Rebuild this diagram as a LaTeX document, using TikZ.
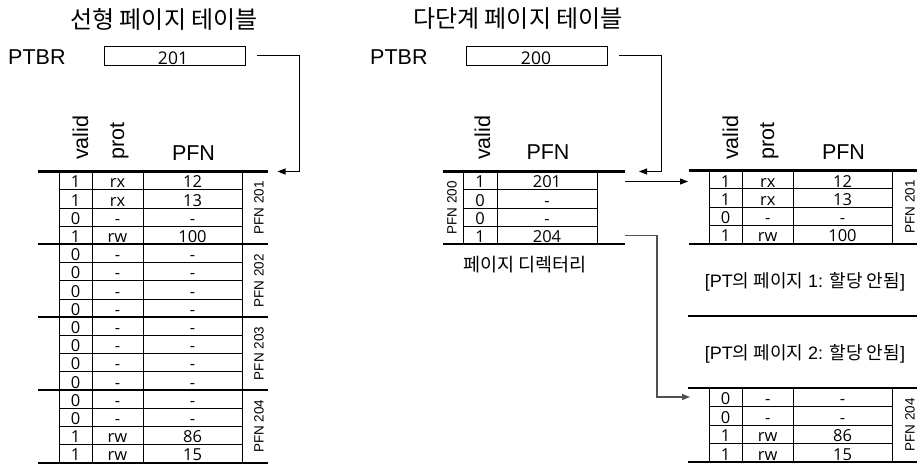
\documentclass[tikz,border=0pt]{standalone}
\usepackage{fontspec}
\setmainfont{Liberation Sans}
\newfontfamily\kr{Noto Sans CJK KR}
\newfontfamily\os{Open Sans}
\usetikzlibrary{arrows.meta}
\definecolor{linegray}{RGB}{80,80,80}
\begin{document}
\begin{tikzpicture}[x=1pt,y=-1pt,
  thinln/.style={line width=0.8pt},
  thickln/.style={line width=2.2pt},
  cell/.style={font=\os\fontsize{16.5}{16.5}\selectfont, anchor=base, inner sep=0pt},
  hdr/.style={font=\fontsize{21.5}{21.5}\selectfont, inner sep=0pt, anchor=base},
  vhdr/.style={font=\fontsize{21.5}{21.5}\selectfont, inner sep=0pt, rotate=90, anchor=base west},
  grp/.style={font=\fontsize{13.5}{13.5}\selectfont, rotate=90, inner sep=0pt},
  ptbox/.style={draw, line width=0.9pt, minimum width=141pt, minimum height=19pt, inner sep=0pt},
  boxtxt/.style={font=\os\fontsize{17.5}{17.5}\selectfont, anchor=base, inner sep=0pt},
  title/.style={font=\kr\fontsize{24}{24}\selectfont, inner sep=0pt},
  note/.style={font=\fontsize{18}{18}\selectfont, inner sep=0pt},
  arr/.style={line width=1pt, -{Triangle[length=8pt,width=6pt]}}
]
\useasboundingbox (0,0) rectangle (917,464);

% ---------- titles ----------
\node[title] (tL) at (164,19) {선형 페이지 테이블};
\node[title] (tR) at (518,19) {다단계 페이지 테이블};

% ---------- PTBR ----------
\node[hdr, anchor=base west] (ptbrL) at (8,64) {PTBR};
\node[ptbox] (boxL) at (174.5,55.5) {};
\node[boxtxt] (boxLt) at (173,64.3) {201};
\node[hdr, anchor=base west] (ptbrR) at (370,64) {PTBR};
\node[ptbox] (boxR) at (536.5,55.5) {};
\node[boxtxt] (boxRt) at (536,64.3) {200};

% ---------- left linear table ----------
\node[vhdr] (Lhv) at (88,160) {valid};
\node[vhdr] (Lhp) at (124,160) {prot};
\node[hdr] (Lhf) at (193.5,160) {PFN};
\foreach \v/\p/\f [count=\i from 1] in {1/rx/12,1/rx/13,0/-/-,1/rw/100,0/-/-,0/-/-,0/-/-,0/-/-,0/-/-,0/-/-,0/-/-,0/-/-,0/-/-,0/-/-,1/rw/86,1/rw/15}{
  \node[cell] (Lv\i) at (75.5,{171.5+\i*18.2-1.8}) {\v};
  \node[cell] (Lp\i) at (117.5,{171.5+\i*18.2-1.8}) {\p};
  \node[cell] (Lf\i) at (192.5,{171.5+\i*18.2-1.8}) {\f};
}
\foreach \i in {1,2,3,5,6,7,9,10,11,13,14,15}
  \draw[thinln] (59,{171.5+\i*18.2}) -- (242,{171.5+\i*18.2});
\foreach \x in {59,92,143,242}
  \draw[thinln] (\x,171.5) -- (\x,462.7);
\foreach \i in {0,4,8,12,16}
  \draw[thickln] (38,{171.5+\i*18.2}) -- (268,{171.5+\i*18.2});
\foreach \g/\n in {0/201,1/202,2/203,3/204}
  \node[grp] (Lg\g) at (259,{171.5+(\g*4+2)*18.2}) {PFN \n};

% ---------- page directory ----------
\node[vhdr] (Dhv) at (490,160) {valid};
\node[hdr] (Dhf) at (548,159) {PFN};
\foreach \v/\f [count=\i from 1] in {1/201,0/-,0/-,1/204}{
  \node[cell] (Dv\i) at (480,{171.5+\i*18.2-1.8}) {\v};
  \node[cell] (Df\i) at (547,{171.5+\i*18.2-1.8}) {\f};
}
\foreach \i in {1,2,3}
  \draw[thinln] (463,{171.5+\i*18.2}) -- (597,{171.5+\i*18.2});
\foreach \x in {463,497,597}
  \draw[thinln] (\x,171.5) -- (\x,244.3);
\foreach \i in {0,4}
  \draw[thickln] (443,{171.5+\i*18.2}) -- (625,{171.5+\i*18.2});
\node[grp] (Dg) at (452,208) {PFN 200};
\node[font=\kr\fontsize{18.5}{18.5}\selectfont, inner sep=0pt] (Dlab) at (525,264.5) {페이지 디렉터리};

% ---------- right top table (PFN 201) ----------
\node[vhdr] (Rhv) at (738,160) {valid};
\node[vhdr] (Rhp) at (774,160) {prot};
\node[hdr] (Rhf) at (843.5,159) {PFN};
\foreach \v/\p/\f [count=\i from 1] in {1/rx/12,1/rx/13,0/-/-,1/rw/100}{
  \node[cell] (Av\i) at (725.7,{170.5+\i*18.3-1.8}) {\v};
  \node[cell] (Ap\i) at (767.7,{170.5+\i*18.3-1.8}) {\p};
  \node[cell] (Af\i) at (842.5,{170.5+\i*18.3-1.8}) {\f};
}
\foreach \i in {1,2,3}
  \draw[thinln] (709,{170.5+\i*18.3}) -- (892,{170.5+\i*18.3});
\foreach \x in {709,742.5,793,892}
  \draw[thinln] (\x,170.5) -- (\x,243.7);
\foreach \i in {0,4}
  \draw[thickln] (689,{170.5+\i*18.3}) -- (917,{170.5+\i*18.3});
\node[grp] (Ag) at (910,207) {PFN 201};

% ---------- not allocated pages ----------
\node[note] (n1) at (805,282) {[PT{\kr 의 페이지} 1: {\kr 할당 안됨}]};
\draw[thickln] (688,316) -- (917,316);
\node[note] (n2) at (805,354) {[PT{\kr 의 페이지} 2: {\kr 할당 안됨}]};

% ---------- right bottom table (PFN 204) ----------
\foreach \v/\p/\f [count=\i from 1] in {0/-/-,0/-/-,1/rw/86,1/rw/15}{
  \node[cell] (Bv\i) at (725.7,{388+\i*18.5-1.8}) {\v};
  \node[cell] (Bp\i) at (767.7,{388+\i*18.5-1.8}) {\p};
  \node[cell] (Bf\i) at (842.5,{388+\i*18.5-1.8}) {\f};
}
\foreach \i in {1,2,3}
  \draw[thinln] (709,{388+\i*18.5}) -- (892,{388+\i*18.5});
\foreach \x in {709,742.5,793,892}
  \draw[thinln] (\x,388) -- (\x,462);
\foreach \i in {0,4}
  \draw[thickln] (688,{388+\i*18.5}) -- (917,{388+\i*18.5});
\node[grp] (Bg) at (910,425) {PFN 204};

% ---------- connectors ----------
\coordinate (cL) at (299.5,171.5);
\coordinate (eL) at (277.5,171.5);
\draw[arr] ([xshift=12pt]boxL.east) -| (cL) -- (eL);

\coordinate (cR) at (661.5,171.5);
\coordinate (eR) at (639,171.5);
\draw[arr] ([xshift=12pt]boxR.east) -| (cR) -- (eR);

\coordinate (d1) at (625,181.5);
\coordinate (a1) at (688,181.5);
\draw[arr] (d1) -- (a1);

\coordinate (d4) at (625,235.2);
\coordinate (c4) at (657,397);
\coordinate (a4) at (690,397);
\draw[arr, line width=1.2pt, color=linegray] (d4) -| (c4) -- (a4);
\end{tikzpicture}
\end{document}
